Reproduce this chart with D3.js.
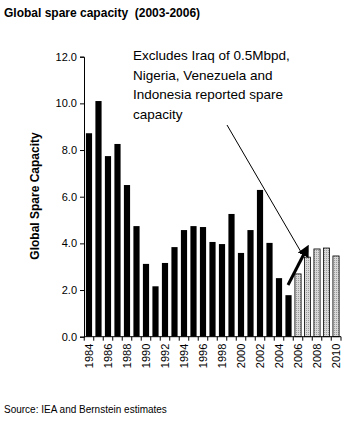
<!DOCTYPE html>
<html>
<head>
<meta charset="utf-8">
<script src="https://cdn.jsdelivr.net/npm/d3@7/dist/d3.min.js"></script>
<style>
  body { margin: 0; background: #fff; }
  text { font-family: "Liberation Sans", Arial, sans-serif; }
</style>
</head>
<body>
<div id="container"></div>
<script>
// data (million barrels per day)
var years = d3.range(1984, 2011);
var spare = [8.72, 10.1, 7.74, 8.26, 6.5, 4.74, 3.12, 2.16, 3.16, 3.84,
             4.57, 4.74, 4.7, 4.06, 3.97, 5.26, 3.59, 4.57, 6.29, 4.02,
             2.51, 1.78, 2.69, 3.41, 3.76, 3.8, 3.46];
var firstForecast = 2006;
var yTicks = [0, 2, 4, 6, 8, 10, 12];
var noteLines = ['Excludes Iraq of 0.5Mbpd,', 'Nigeria, Venezuela and',
                 'Indonesia reported spare', 'capacity'];

var width = 360;
var height = 429;

var svg = d3.select('#container')
	.append('svg')
	.attr('width', width)
	.attr('height', height);

// dotted fill for the forecast bars
var pat = svg.append('defs').append('pattern')
	.attr('id', 'dots')
	.attr('width', 2)
	.attr('height', 2)
	.attr('patternUnits', 'userSpaceOnUse');
pat.append('rect').attr('width', 2).attr('height', 2).attr('fill', '#d8d8d8');
pat.append('rect').attr('width', 1).attr('height', 1).attr('fill', '#9a9a9a');

var x = d3.scaleBand()
	.domain(years)
	.range([84, 341])
	.paddingInner(0.35)
	.paddingOuter(0.2);

var y = d3.scaleLinear()
	.domain([0, 12])
	.range([336.7, 56.7]);

// bars
svg.selectAll('rect.bar')
	.data(years)
	.enter()
	.append('rect')
	.attr('class', 'bar')
	.attr('x', (d) => x(d))
	.attr('width', x.bandwidth())
	.attr('y', (d, i) => y(spare[i]))
	.attr('height', (d, i) => y(0) - y(spare[i]))
	.attr('fill', (d) => d >= firstForecast ? 'url(#dots)' : '#000')
	.attr('stroke', '#000')
	.attr('stroke-width', (d) => d >= firstForecast ? 0.8 : 0);

// y axis
var yAxis = svg.append('g')
	.attr('transform', 'translate(84,0)')
	.call(d3.axisLeft(y).tickValues(yTicks).tickFormat(d3.format('.1f')).tickSize(4).tickPadding(3));
yAxis.select('.domain').attr('stroke', '#000');
yAxis.selectAll('text').attr('font-size', 11).attr('fill', '#000')
	.style('font-family', '"Liberation Sans", Arial, sans-serif');

// x axis: baseline, ticks between bars, labels every second year
var step = x.step();
var gap = step - x.bandwidth();
svg.append('line')
	.attr('x1', 84).attr('x2', 341)
	.attr('y1', y(0)).attr('y2', y(0))
	.attr('stroke', '#000');

var bounds = years.map((d) => x(d) - gap / 2).concat([341]);
svg.selectAll('line.xtick')
	.data(bounds)
	.enter()
	.append('line')
	.attr('class', 'xtick')
	.attr('x1', (d) => d).attr('x2', (d) => d)
	.attr('y1', y(0)).attr('y2', y(0) + 4)
	.attr('stroke', '#000');

svg.selectAll('text.xlab')
	.data(years.filter((d) => d % 2 === 0))
	.enter()
	.append('text')
	.attr('class', 'xlab')
	.attr('transform', (d) => 'translate(' + (x(d) + x.bandwidth() / 2 + 4) + ',' + (y(0) + 7) + ') rotate(-90)')
	.attr('text-anchor', 'end')
	.attr('font-size', 11)
	.text((d) => d);

// axis title
svg.append('text')
	.attr('transform', 'translate(39,196) rotate(-90)')
	.attr('text-anchor', 'middle')
	.attr('font-size', 12)
	.attr('font-weight', 'bold')
	.text('Global Spare Capacity');

// title and source
svg.append('text')
	.attr('x', 4).attr('y', 17)
	.attr('font-size', 12)
	.attr('font-weight', 'bold')
	.attr('xml:space', 'preserve')
	.text('Global spare capacity  (2003-2006)');

svg.append('text')
	.attr('x', 4).attr('y', 413)
	.attr('font-size', 10)
	.text('Source: IEA and Bernstein estimates');

// annotation
svg.selectAll('text.note')
	.data(noteLines)
	.enter()
	.append('text')
	.attr('class', 'note')
	.attr('x', 133)
	.attr('y', (d, i) => 60 + i * 19.5)
	.attr('font-size', 13.5)
	.text((d) => d);

svg.append('line')
	.attr('x1', 227).attr('y1', 125)
	.attr('x2', 301).attr('y2', 252)
	.attr('stroke', '#000')
	.attr('stroke-width', 1);

svg.append('defs').append('marker')
	.attr('id', 'head')
	.attr('viewBox', '0 0 10 10')
	.attr('refX', 5).attr('refY', 5)
	.attr('markerWidth', 4).attr('markerHeight', 4)
	.attr('orient', 'auto')
	.append('path')
	.attr('d', 'M0,0L10,5L0,10z')
	.attr('fill', '#000');

svg.append('line')
	.attr('x1', 288).attr('y1', 285)
	.attr('x2', 306).attr('y2', 250)
	.attr('stroke', '#000')
	.attr('stroke-width', 3)
	.attr('marker-end', 'url(#head)');
</script>
</body>
</html>
